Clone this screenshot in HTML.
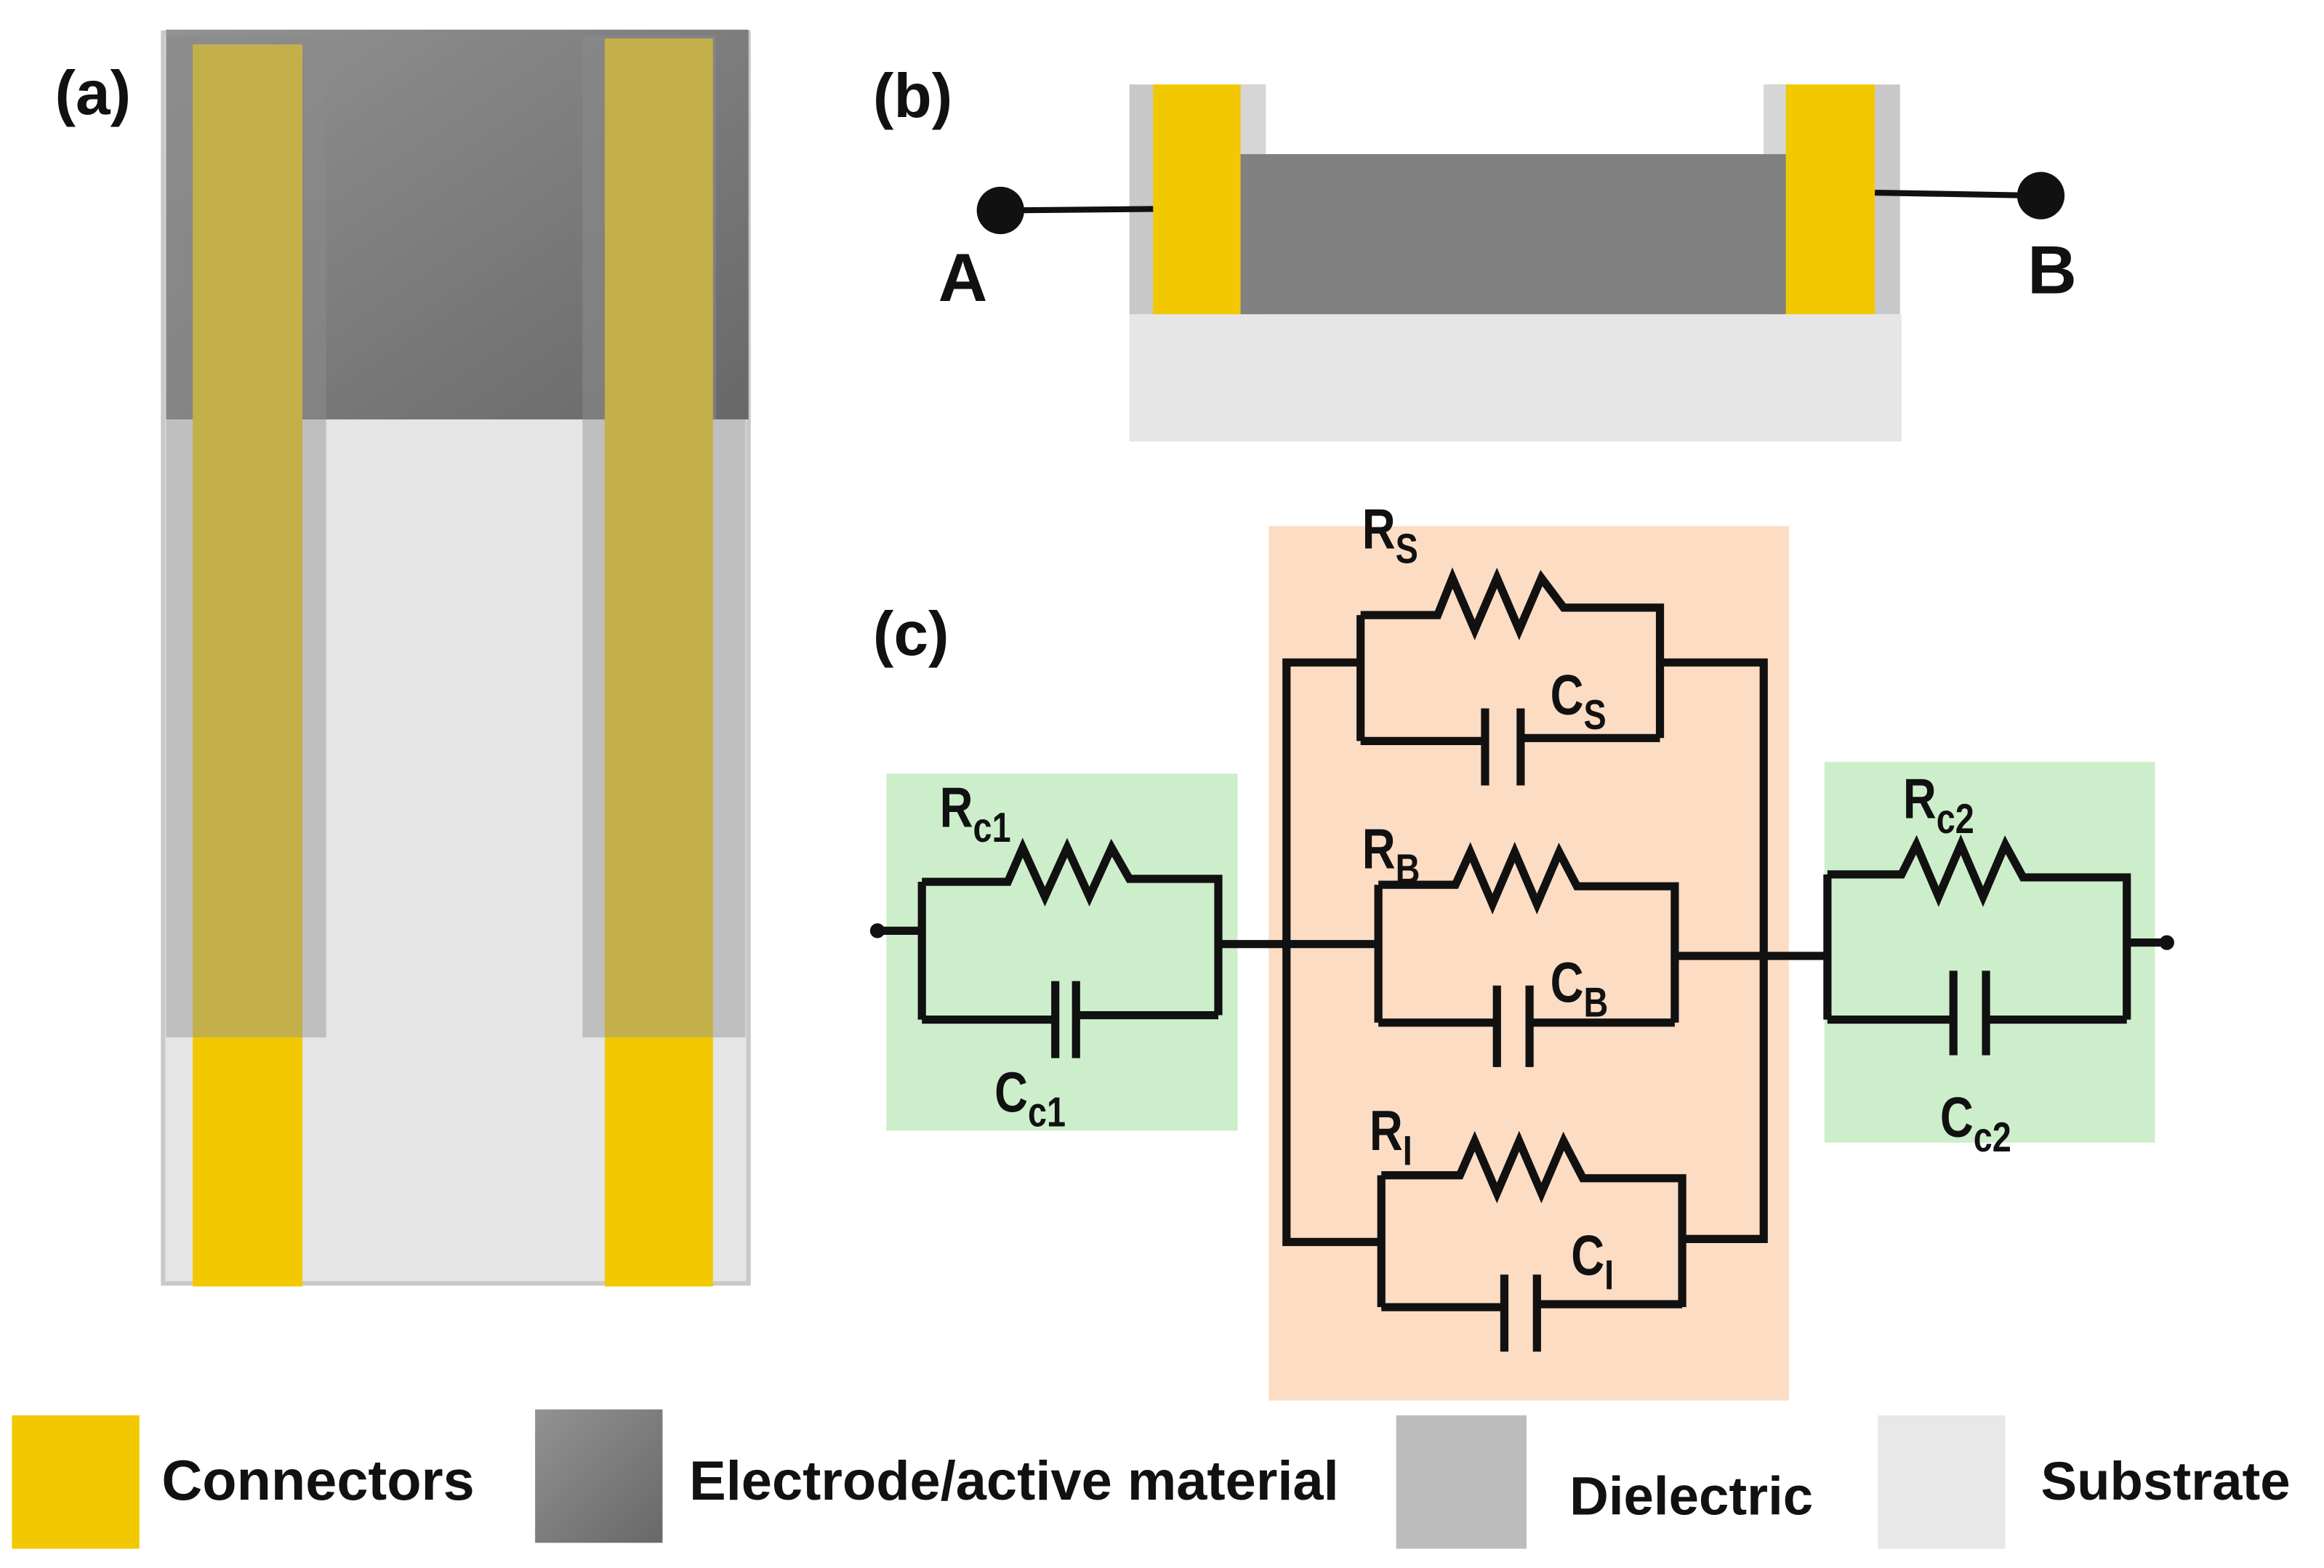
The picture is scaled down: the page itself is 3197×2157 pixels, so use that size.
<!DOCTYPE html>
<html><head><meta charset="utf-8"><style>
html,body{margin:0;padding:0;background:#fff}
svg{display:block}
text{font-family:"Liberation Sans",Arial,sans-serif;font-weight:bold;fill:#111}
</style></head><body>
<svg width="3197" height="2157" viewBox="0 0 1568 1058" xmlns="http://www.w3.org/2000/svg">
<defs>
<linearGradient id="dg" x1="0" y1="0" x2="1" y2="1">
<stop offset="0" stop-color="#929292"/><stop offset="1" stop-color="#686868"/></linearGradient>
</defs>
<rect x="110" y="22" width="395" height="844" fill="#e5e5e5" stroke="#c8c8c8" stroke-width="3"/>
<rect x="112" y="20" width="393" height="263" fill="url(#dg)"/>
<rect x="112" y="283" width="108" height="417" fill="#bfbfbf"/>
<rect x="393" y="283" width="110" height="417" fill="#bfbfbf"/>
<rect x="112" y="24" width="108" height="259" fill="#8a8a8a" opacity="0.6"/>
<rect x="393" y="24" width="90" height="259" fill="#8a8a8a" opacity="0.6"/>
<rect x="130" y="30" width="74" height="670" fill="#c4b04a"/>
<rect x="130" y="700" width="74" height="168" fill="#f2c800"/>
<rect x="408" y="26" width="73" height="674" fill="#c4b04a"/>
<rect x="408" y="700" width="73" height="168" fill="#f2c800"/>
<text x="37" y="77" font-size="42">(a)</text>
<rect x="762" y="212" width="521" height="86" fill="#e6e6e6"/>
<rect x="762" y="57" width="92" height="155" fill="#c8c8c8"/>
<rect x="1190" y="57" width="92" height="155" fill="#c8c8c8"/>
<rect x="837" y="57" width="17" height="47" fill="#d6d6d6"/>
<rect x="1190" y="57" width="15" height="47" fill="#d6d6d6"/>
<rect x="837" y="104" width="368" height="108" fill="#808080"/>
<rect x="778" y="57" width="59" height="155" fill="#f2c800"/>
<rect x="1205" y="57" width="60" height="155" fill="#f2c800"/>
<line x1="675" y1="142" x2="778" y2="141" stroke="#111" stroke-width="4"/>
<line x1="1265" y1="130" x2="1377" y2="132" stroke="#111" stroke-width="4"/>
<circle cx="675" cy="142" r="16" fill="#111"/>
<circle cx="1377" cy="132" r="16" fill="#111"/>
<text x="633" y="203" font-size="46">A</text>
<text x="1368" y="198" font-size="46">B</text>
<text x="589" y="79" font-size="42">(b)</text>
<rect x="856" y="355" width="351" height="590" fill="#fddcc4"/>
<rect x="598" y="522" width="237" height="241" fill="#cdeecb"/>
<rect x="1231" y="514" width="223" height="257" fill="#cdeecb"/>
<text x="589" y="442" font-size="42">(c)</text>
<g fill="none" stroke="#111" stroke-width="5.5" stroke-linejoin="miter">
<path d="M592 628 H622 M622 595 V688 M622 595 H680 L690 572 L705 605 L720 572 L735 605 L750 572 L762 593 H822 V685 M622 688 H712 M726 685 H822 M712 662 V714 M726 662 V714"/>
<path d="M822 637 H930"/>
<path d="M918 447 H868 V838 H932 M1120 447 H1190 V836 H1135"/>
<path d="M918 415 V500 M918 415 H970 L980 390 L995 425 L1010 390 L1025 425 L1040 390 L1055 410 H1120 V498 M918 500 H1002 M1026 498 H1120 M1002 478 V530 M1026 478 V530"/>
<path d="M930 597 V690 M930 597 H982 L992 575 L1007 610 L1022 575 L1037 610 L1052 575 L1064 598 H1130 V690 M930 690 H1010 M1032 690 H1130 M1010 665 V720 M1032 665 V720 M1130 645 H1233"/>
<path d="M932 793 V882 M932 793 H985 L995 770 L1010 805 L1025 770 L1040 805 L1055 770 L1068 795 H1135 V882 M932 882 H1015 M1037 880 H1135 M1015 860 V912 M1037 860 V912"/>
<path d="M1233 590 V688 M1233 590 H1283 L1293 570 L1308 605 L1323 570 L1338 605 L1353 570 L1365 592 H1435 V688 M1233 688 H1318 M1340 688 H1435 M1318 655 V712 M1340 655 V712 M1435 636 H1462"/>
</g>
<circle cx="592" cy="628" r="5" fill="#111"/>
<circle cx="1462" cy="636" r="5" fill="#111"/>
<g font-size="38">
<text transform="translate(919,370) scale(0.82,1)">R<tspan font-size="28" dy="10">S</tspan></text>
<text transform="translate(1046,482) scale(0.82,1)">C<tspan font-size="28" dy="10">S</tspan></text>
<text transform="translate(634,558) scale(0.82,1)">R<tspan font-size="28" dy="10">c1</tspan></text>
<text transform="translate(671,750) scale(0.82,1)">C<tspan font-size="28" dy="10">c1</tspan></text>
<text transform="translate(919,586) scale(0.82,1)">R<tspan font-size="28" dy="10">B</tspan></text>
<text transform="translate(1046,676) scale(0.82,1)">C<tspan font-size="28" dy="10">B</tspan></text>
<text transform="translate(924,776) scale(0.82,1)">R<tspan font-size="28" dy="10">I</tspan></text>
<text transform="translate(1060,860) scale(0.82,1)">C<tspan font-size="28" dy="10">I</tspan></text>
<text transform="translate(1284,552) scale(0.82,1)">R<tspan font-size="28" dy="10">c2</tspan></text>
<text transform="translate(1309,767) scale(0.82,1)">C<tspan font-size="28" dy="10">c2</tspan></text>
</g>
<rect x="8" y="955" width="86" height="90" fill="#f2c800"/>
<rect x="361" y="951" width="86" height="90" fill="url(#dg)"/>
<rect x="942" y="955" width="88" height="90" fill="#bcbcbc"/>
<rect x="1267" y="955" width="86" height="90" fill="#e8e8e8"/>
<text x="109" y="1012" font-size="38">Connectors</text>
<text x="465" y="1012" font-size="37.2">Electrode/active material</text>
<text x="1059" y="1022" font-size="36.5">Dielectric</text>
<text x="1377" y="1012" font-size="36.5">Substrate</text>
</svg>
</body></html>
